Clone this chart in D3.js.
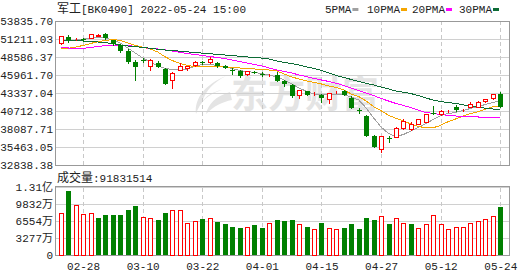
<!DOCTYPE html>
<html>
<head>
<meta charset="utf-8">
<script src="https://cdn.jsdelivr.net/npm/d3@7"></script>
<style>
    body { margin: 0; background: #fff; }
    text { font-family: "Liberation Mono", "Noto Sans CJK SC", monospace; font-size: 11px; fill: #222; }
</style>
</head>
<body>
<svg id="chart" width="530" height="276"></svg>
<script>
// trading days shown (MM-DD)
const dates = ["02-23","02-24","02-25","02-28","03-01","03-02","03-03","03-04","03-07","03-08",
    "03-09","03-10","03-11","03-14","03-15","03-16","03-17","03-18","03-21","03-22",
    "03-23","03-24","03-25","03-28","03-29","03-30","03-31","04-01","04-06","04-07",
    "04-08","04-11","04-12","04-13","04-14","04-15","04-18","04-19","04-20","04-21",
    "04-22","04-25","04-26","04-27","04-28","04-29","05-05","05-06","05-09","05-10",
    "05-11","05-12","05-13","05-16","05-17","05-18","05-19","05-20","05-23","05-24"];

// daily k-line values
const open = [50555,51459,51036,51211,51400,51721,51940,51109,50336,49505,
    47814,48149,47318,47712,46880,45277,46735,46939,47420,47857,
    47901,47712,47274,46735,46589,46108,46472,46064,45918,45991,
    45131,44504,43002,43629,43354,43090,42463,43629,43585,42609,
    40786,39984,37068,35172,36794,36879,38279,38133,38775,39066,
    40378,40232,40815,41252,41004,41252,41340,42127,42652,43148];
const close = [51648,51065,51123,51138,51896,51794,51313,50438,49505,47901,
    47128,48076,48193,47172,44694,46210,47270,47290,47901,47770,
    48295,47274,46939,46647,45860,46502,46399,45977,45991,45131,
    44694,42900,43731,43002,43398,42652,43295,43673,43046,41106,
    40713,37112,35508,37025,36692,38186,39212,38775,39547,40276,
    40320,40713,40859,40902,41048,41690,42025,42463,43192,41340];
const high = [51700,51794,51400,51357,51950,51940,52086,51138,50526,49753,
    48149,48441,48339,48047,46983,46356,47668,47320,48047,48047,
    48543,47901,47420,46939,46735,46545,46502,46356,46064,46356,
    45160,44577,43775,43673,43441,43192,43354,43690,43731,42856,
    41106,40057,37258,37068,37068,38419,39504,39066,39591,40320,
    41442,40859,40870,41544,41060,42025,42098,42492,43221,43485];
const low = [50500,50817,51021,50992,51350,51648,51255,50409,49359,47755,
    45189,47857,46735,47128,44650,44023,46700,46735,47274,47543,
    47712,47084,46910,46108,45670,45918,46210,45773,45860,45087,
    44358,42754,42565,42973,43046,42069,41836,43354,42973,41077,
    40378,37068,35464,34780,36237,36850,38133,37943,38745,39037,
    40276,40200,40524,40757,40655,41223,41325,41982,42507,41325];

// moving averages as drawn
const ma5 = [50847,50992,51066,51211,51357,51401,51357,51066,50628,49899,
    49170,48441,47858,47347,46910,46764,46691,46837,47202,47493,
    47522,47347,47129,46910,46618,46473,46327,46181,45962,45671,
    45233,44650,44067,43556,43192,43119,43119,43119,43046,42754,
    42317,41150,39692,38380,37432,36995,37287,37797,38307,38890,
    39474,40057,40349,40494,40786,41078,41369,41661,41952,42215];
const ma10 = [49753,49855,50045,50263,50555,50817,50992,51138,50992,50628,
    50300,50031,49738,49342,48621,48063,47659,47344,47184,47170,
    47173,47158,47129,47056,46983,46910,46837,46764,46691,46545,
    46108,45671,45379,45087,44869,44650,44358,44140,43775,43192,
    42827,42171,41351,40753,40082,39636,39255,38818,38453,38278,
    38265,38625,39161,39548,39984,40334,40616,40984,41349,41455];
const ma20 = [49972,49899,49855,49855,49972,50117,50263,50336,50336,50263,
    50117,49972,49855,49753,49636,49461,49271,49097,48951,48805,
    48660,48514,48368,48149,47931,47712,47493,47275,46983,46691,
    46473,46254,45962,45714,45452,45233,45014,44752,44431,44067,
    43702,43338,42973,42536,42171,41807,41515,41223,40859,40494,
    40349,40203,40086,39984,39911,39867,39838,39809,39794,39794];
const ma30 = [51066,51022,50963,50920,50847,50774,50672,50526,50336,50190,
    50088,50001,49855,49724,49607,49520,49432,49330,49243,49155,
    49068,48966,48878,48791,48703,48601,48514,48426,48295,48004,
    47785,47624,47420,47129,46910,46618,46254,45889,45598,45306,
    45014,44752,44504,44213,43921,43629,43454,43250,42973,42609,
    42317,42098,41952,41821,41617,41442,41267,41121,41005,40859];

// traded volume (shares)
const volume = [80400000,123400000,95800000,78500000,80400000,70750000,76500000,76500000,76500000,86800000,
    93900000,72700000,70750000,67500000,81000000,86200000,86200000,61100000,65000000,68800000,
    70750000,63600000,59200000,53400000,51500000,53400000,57300000,51500000,61100000,67500000,
    65550000,67500000,59200000,54000000,50100000,61700000,51500000,50100000,52000000,59800000,
    50100000,71300000,67500000,74600000,59800000,70750000,61100000,59800000,51500000,59200000,
    76500000,59200000,49500000,53400000,53400000,61100000,65000000,68800000,74600000,91831514];

// axis ticks
const priceTicks = [53835.70,51211.03,48586.37,45961.70,43337.04,40712.38,38087.71,35463.05,32838.38];
const volTicks = [0,32770000,65540000,98320000,131090000];
const volTickLabels = ["0","3277万","6554万","9832万","1.31亿"];
const dateTicks = ["02-28","03-10","03-22","04-01","04-15","04-27","05-12","05-24"];

const maSeries = [
    { name: "5PMA", values: ma5, color: "#a0a0a0" },
    { name: "10PMA", values: ma10, color: "#f5a500" },
    { name: "20PMA", values: ma20, color: "#ff00ff" },
    { name: "30PMA", values: ma30, color: "#0c6b35" }
];

const upColor = "#ff0000", downColor = "#008000";

// layout of the two panels
const plot = { left: 55, right: 509, top: 21, bottom: 165 };
const volPlot = { top: 187, bottom: 255 };

const svg = d3.select("#chart");

const x = d3.scalePoint().domain(dates).range([60.7, 500.3]);
const y = d3.scaleLinear()
    .domain([priceTicks[priceTicks.length - 1], priceTicks[0]])
    .range([plot.bottom, plot.top]);
const yVol = d3.scaleLinear()
    .domain([0, volTicks[volTicks.length - 1]])
    .range([volPlot.bottom, volPlot.top]);

// watermark behind everything
const wm = svg.append("g").attr("fill", "#e4e4e4");
wm.append("path")
    .attr("d", "M226,76 C206,84 194,98 196,114 C200,102 208,94 222,90 C212,92 206,96 202,102 C206,90 214,82 226,76 Z M230,92 C216,96 208,104 206,114 C214,106 222,102 232,100 Z");
wm.append("text")
    .attr("x", 231)
    .attr("y", 108)
    .style("font-family", "'Noto Sans CJK SC'")
    .style("font-size", "37px")
    .style("font-weight", "bold")
    .style("fill", "#e4e4e4")
    .text("东方财富");

// horizontal gridlines
svg.append("g")
    .attr("transform", `translate(${plot.left},0)`)
    .call(d3.axisLeft(y).tickValues(priceTicks).tickSize(-(plot.right - plot.left)).tickFormat(""))
    .call(g => g.select(".domain").remove())
    .call(g => g.selectAll("line").attr("stroke", "#d0d0d0").attr("shape-rendering", "crispEdges"));

svg.append("g")
    .attr("transform", `translate(${plot.left},0)`)
    .call(d3.axisLeft(yVol).tickValues(volTicks).tickSize(-(plot.right - plot.left)).tickFormat(""))
    .call(g => g.select(".domain").remove())
    .call(g => g.selectAll("line").attr("stroke", "#d0d0d0").attr("shape-rendering", "crispEdges"));

// vertical dashed gridlines in both panels
[[plot.top, plot.bottom], [volPlot.top, volPlot.bottom]].forEach(([t, b]) => {
    svg.append("g")
        .attr("transform", `translate(0,${b})`)
        .call(d3.axisBottom(x).tickValues(dateTicks).tickSize(-(b - t)).tickFormat(""))
        .call(g => g.select(".domain").remove())
        .call(g => g.selectAll("line")
            .attr("stroke", "#c8c8c8")
            .attr("stroke-dasharray", "4,3")
            .attr("shape-rendering", "crispEdges"));
});

// panel borders
[[plot.top, plot.bottom], [volPlot.top - 1, volPlot.bottom]].forEach(([t, b]) => {
    svg.append("rect")
        .attr("x", plot.left + 0.5)
        .attr("y", t + 0.5)
        .attr("width", plot.right - plot.left)
        .attr("height", b - t)
        .attr("fill", "none")
        .attr("stroke", "#999")
        .attr("shape-rendering", "crispEdges");
});

// price labels
svg.append("g")
    .attr("transform", `translate(${plot.left},0)`)
    .call(d3.axisLeft(y).tickValues(priceTicks).tickSize(0).tickPadding(2).tickFormat(d3.format(".2f")))
    .call(g => g.select(".domain").remove())
    .call(g => g.selectAll("text").attr("fill", "#222").style("font-size", "11px"));

// volume labels
svg.append("g")
    .attr("transform", `translate(${plot.left},0)`)
    .call(d3.axisLeft(yVol).tickValues(volTicks).tickSize(0).tickPadding(2)
        .tickFormat((d, i) => volTickLabels[i]))
    .call(g => g.select(".domain").remove())
    .call(g => g.selectAll("text").attr("fill", "#222").style("font-size", "11px"));

// date labels
svg.append("g")
    .attr("transform", `translate(0,${volPlot.bottom})`)
    .call(d3.axisBottom(x).tickValues(dateTicks).tickSize(0).tickPadding(7))
    .call(g => g.select(".domain").remove())
    .call(g => g.selectAll("text").attr("fill", upColor).style("font-size", "11px"));

// moving average lines
const clip = svg.append("clipPath").attr("id", "clip-price")
    .append("rect")
    .attr("x", plot.left + 1).attr("y", plot.top + 1)
    .attr("width", plot.right - plot.left - 1).attr("height", plot.bottom - plot.top - 1);

const line = d3.line().x((d, i) => x(dates[i])).y(d => y(d));
svg.append("g")
    .attr("clip-path", "url(#clip-price)")
    .selectAll("path")
    .data(maSeries)
    .join("path")
    .attr("d", d => line(d.values))
    .attr("fill", "none")
    .attr("stroke", d => d.color)
    .attr("stroke-width", 1)
    .attr("shape-rendering", "crispEdges");

// candles
const candles = dates.map((d, i) => ({ date: d, o: open[i], c: close[i], h: high[i], l: low[i] }));
const cg = svg.append("g").attr("shape-rendering", "crispEdges");

cg.selectAll(".wick")
    .data(candles)
    .join("line")
    .attr("class", "wick")
    .attr("x1", d => Math.round(x(d.date)) + 0.5)
    .attr("x2", d => Math.round(x(d.date)) + 0.5)
    .attr("y1", d => Math.round(y(d.h)))
    .attr("y2", d => Math.round(y(d.l)) + 1)
    .attr("stroke", d => d.c >= d.o ? upColor : downColor);

cg.selectAll(".body")
    .data(candles)
    .join("rect")
    .attr("class", "body")
    .each(function (d) {
        const top = Math.round(y(Math.max(d.o, d.c)));
        const bot = Math.round(y(Math.min(d.o, d.c)));
        const cx = Math.round(x(d.date));
        const up = d.c >= d.o;
        if (up) {
            d3.select(this)
                .attr("x", cx - 2 + 0.5).attr("y", top + 0.5)
                .attr("width", 4).attr("height", Math.max(0, bot - top))
                .attr("fill", "#fff").attr("stroke", upColor);
        } else {
            d3.select(this)
                .attr("x", cx - 2).attr("y", top)
                .attr("width", 5).attr("height", Math.max(1, bot - top))
                .attr("fill", downColor);
        }
    });

// volume bars, coloured against the previous close
const vg = svg.append("g").attr("shape-rendering", "crispEdges");
vg.selectAll("rect")
    .data(volume)
    .join("rect")
    .each(function (v, i) {
        const up = i === 0 ? close[i] >= open[i] : close[i] >= close[i - 1];
        const cx = Math.round(x(dates[i]));
        const top = Math.round(yVol(v));
        const sel = d3.select(this);
        if (up) {
            sel.attr("x", cx - 2 + 0.5).attr("y", top + 0.5)
                .attr("width", 4).attr("height", volPlot.bottom - top - 0.5)
                .attr("fill", "#fff").attr("stroke", upColor);
        } else {
            sel.attr("x", cx - 2).attr("y", top)
                .attr("width", 5).attr("height", volPlot.bottom - top)
                .attr("fill", downColor);
        }
    });

// title
const title = svg.append("text").attr("x", 57).attr("y", 13);
title.append("tspan").style("font-family", "'Noto Sans CJK SC'").style("font-size", "12px").text("军工");
title.append("tspan").text("[BK0490] 2022-05-24 15:00");

// legend
const legendX = [325, 367, 412, 459];
const lg = svg.append("g");
maSeries.forEach((s, i) => {
    lg.append("text").attr("x", legendX[i]).attr("y", 13).text(s.name);
    lg.append("rect")
        .attr("x", legendX[i] + s.name.length * 6.6 + 1)
        .attr("y", 8)
        .attr("width", 6)
        .attr("height", 3)
        .attr("fill", s.color);
});

// volume caption
const cap = svg.append("text").attr("x", 57).attr("y", 182);
cap.append("tspan").style("font-family", "'Noto Sans CJK SC'").style("font-size", "12px").text("成交量");
cap.append("tspan").text(":" + volume[volume.length - 1]);
</script>
</body>
</html>
